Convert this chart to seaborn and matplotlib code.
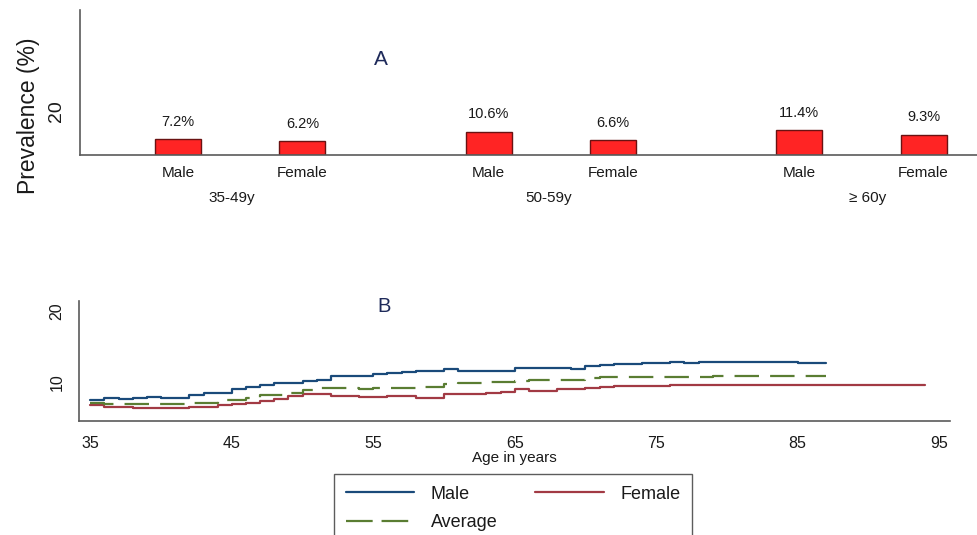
import pandas as pd
import matplotlib
matplotlib.use('Agg')
import matplotlib.pyplot as plt
import seaborn as sns
from matplotlib.lines import Line2D
from matplotlib.transforms import blended_transform_factory

# Panel A: prevalence by age group and sex
age_groups = ['35-49y', '50-59y', '\u2265 60y']
sexes = ['Male', 'Female']
prevalence = [7.2, 6.2, 10.6, 6.6, 11.4, 9.3]

# Panel B: prevalence by single year of age (step curves)
male_ages = list(range(35, 88))
male_prev = [7.4, 7.7, 7.6, 7.8, 7.95, 7.75, 7.75, 8.2, 8.4, 8.45,
             9.0, 9.3, 9.6, 9.8, 9.9, 10.1, 10.3, 10.8, 10.85, 10.9,
             11.1, 11.25, 11.4, 11.5, 11.6, 11.8, 11.6, 11.6, 11.5, 11.5,
             12.0, 12.0, 12.0, 12.0, 11.8, 12.2, 12.4, 12.6, 12.6, 12.7,
             12.7, 12.9, 12.75, 12.9, 12.9, 12.9, 12.9, 12.8, 12.8, 12.8,
             12.7, 12.7, 12.7]
avg_ages = list(range(35, 88))
avg_prev = [7.05, 6.9, 6.9, 6.9, 6.9, 6.9, 6.9, 7.1, 7.1, 7.5,
            7.5, 7.75, 8.2, 8.2, 8.5, 8.9, 9.15, 9.15, 9.1, 9.05,
            9.1, 9.15, 9.15, 9.3, 9.3, 9.7, 9.85, 9.85, 9.95, 9.95,
            10.2, 10.25, 10.3, 10.3, 10.3, 10.55, 10.65, 10.65, 10.65, 10.7,
            10.7, 10.75, 10.75, 10.75, 10.8, 10.8, 10.8, 10.8, 10.8, 10.8,
            10.8, 10.8, 10.8]
female_ages = list(range(35, 95))
female_prev = [6.75, 6.5, 6.5, 6.35, 6.35, 6.3, 6.3, 6.45, 6.45, 6.8,
               6.9, 7.1, 7.35, 7.6, 8.1, 8.25, 8.25, 8.0, 8.0, 7.9,
               7.9, 8.0, 8.0, 7.75, 7.75, 8.35, 8.35, 8.35, 8.4, 8.6,
               9.0, 8.8, 8.8, 9.0, 9.0, 9.2, 9.3, 9.4, 9.4, 9.45,
               9.5, 9.6, 9.6, 9.6, 9.6, 9.6, 9.55, 9.55, 9.55, 9.55,
               9.55, 9.55, 9.55, 9.55, 9.55, 9.55, 9.55, 9.55, 9.55, 9.55]

sns.set_style('white')
plt.rcParams['font.family'] = ['Liberation Sans', 'DejaVu Sans']
txt = '#1a1a1a'
spine_col = '#5a5a5a'

fig = plt.figure(figsize=(9.77, 5.35), dpi=100)
ax1 = fig.add_axes([0.0819, 0.7103, 0.9181, 0.2710])
ax2 = fig.add_axes([0.0809, 0.2131, 0.8915, 0.2249])

# ---- Panel A ----
gap = 2.5
bars = pd.DataFrame({
    'group': [g for g in age_groups for s in sexes],
    'sex': [s for g in age_groups for s in sexes],
    'value': prevalence,
})
bars['pos'] = [i * gap + j for i in range(len(age_groups)) for j in range(len(sexes))]

sns.barplot(data=bars, x='pos', y='value', native_scale=True, ax=ax1,
            color='#ff2424', saturation=1, edgecolor='#6a1212', linewidth=1.0,
            width=0.37)
for x, v in zip(bars['pos'], bars['value']):
    ax1.annotate(f'{v}%', (x, v), xytext=(0, 12.5), textcoords='offset points',
                 ha='center', va='center', fontsize=10.5, color=txt)

ax1.set_xlim(-0.79, 6.43)
ax1.set_ylim(0, 66)
ax1.set_xticks(bars['pos'])
ax1.set_xticklabels(bars['sex'], fontsize=11, color=txt)
ax1.set_yticks([20])
ax1.set_yticklabels(['20'], fontsize=14, color=txt, rotation=90, va='center')
ax1.tick_params(axis='x', length=0, pad=8)
ax1.tick_params(axis='y', length=5, width=1, color=spine_col, pad=6)
ax1.set_xlabel('')
ax1.set_ylabel('Prevalence (%)', fontsize=16.5, color=txt)
ax1.yaxis.set_label_coords(-0.045, 0.27)
tr = blended_transform_factory(ax1.transData, ax1.transAxes)
group_label_x = [0.43, 2.98, 5.55]
for gx, g in zip(group_label_x, age_groups):
    ax1.text(gx, -0.3, g, transform=tr, ha='center', va='center',
             fontsize=11, color=txt)
ax1.text(0.335, 0.66, 'A', transform=ax1.transAxes, ha='center', va='center',
         fontsize=15, color='#1e2a5a')

# ---- Panel B ----
series = [
    ('Male', male_ages, male_prev, '#1a4a7a', ''),
    ('Female', female_ages, female_prev, '#a23a44', ''),
    ('Average', avg_ages, avg_prev, '#5a7d32', (11, 5)),
]
handles = {}
for name, ages, vals, col, dash in series:
    d = pd.DataFrame({'age': ages, 'prev': vals})
    sns.lineplot(data=d, x='age', y='prev', ax=ax2, color=col, linewidth=1.6,
                 drawstyle='steps-post', estimator=None)
    ln = ax2.get_lines()[-1]
    if dash:
        ln.set_dashes(dash)
    handles[name] = Line2D([0], [0], color=col, linewidth=1.6,
                           linestyle=(0, (12, 4)) if dash else '-')

ax2.set_xlim(34.2, 95.78)
ax2.set_ylim(4.5, 21.5)
ax2.set_xticks([35, 45, 55, 65, 75, 85, 95])
ax2.set_yticks([10, 20])
ax2.tick_params(axis='x', labelsize=11.5, labelcolor=txt, length=5.5, width=1,
                color=spine_col, pad=5)
ax2.tick_params(axis='y', labelsize=11.5, labelcolor=txt, length=5.5, width=1,
                color=spine_col, pad=5)
for lab in ax2.get_yticklabels():
    lab.set_rotation(90)
    lab.set_va('center')
ax2.set_xlabel('Age in years', fontsize=11, color=txt, labelpad=0)
ax2.set_ylabel('')
ax2.text(0.35, 0.95, 'B', transform=ax2.transAxes, ha='center', va='center',
         fontsize=14.5, color='#1e2a5a')

for ax in (ax1, ax2):
    sns.despine(ax=ax)
    for s in ('left', 'bottom'):
        ax.spines[s].set_color(spine_col)
        ax.spines[s].set_linewidth(1.2)

order = ['Male', 'Average', 'Female']
leg = fig.legend([handles[k] for k in order], order, ncol=2,
                 loc='upper left', bbox_to_anchor=(334 / 977, 1 - 474 / 535),
                 fontsize=13, frameon=True, fancybox=False, handlelength=3.8,
                 handletextpad=0.9, columnspacing=2.1, borderpad=0.65,
                 labelspacing=0.62, borderaxespad=0)
leg.get_frame().set_edgecolor('#333333')
leg.get_frame().set_linewidth(1.0)
for t in leg.get_texts():
    t.set_color(txt)

fig.savefig('out.png', dpi=100)
